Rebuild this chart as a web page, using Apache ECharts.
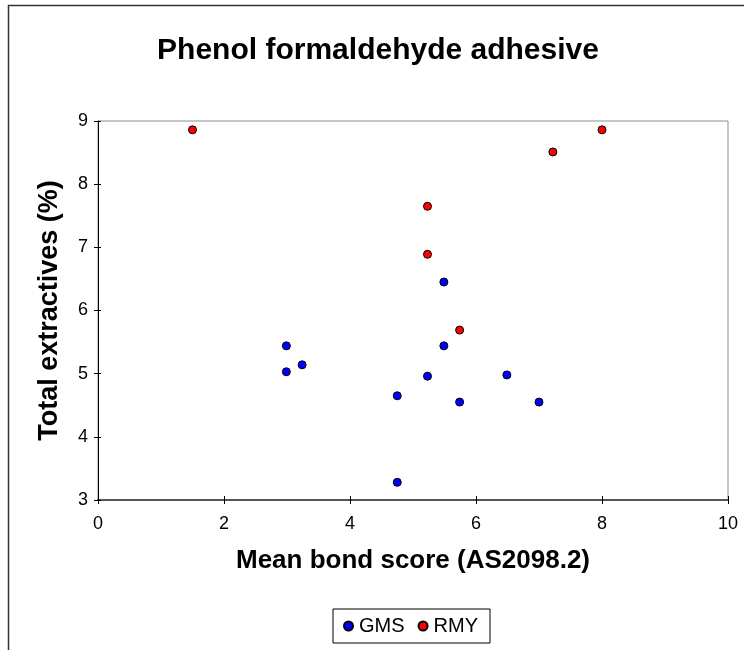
<!DOCTYPE html>
<html>
<head>
<meta charset="utf-8">
<script src="https://cdn.jsdelivr.net/npm/echarts@6/dist/echarts.min.js"></script>
<style>html,body{margin:0;padding:0;background:#fff}#c{width:744px;height:650px}</style>
</head>
<body>
<div id="c"></div>
<script>
var FONT = '"Liberation Sans", Arial, sans-serif';
var titleText = 'Phenol formaldehyde adhesive';
var xTitle = 'Mean bond score (AS2098.2)';
var yTitle = 'Total extractives (%)';
var seriesNames = ['GMS', 'RMY'];
var gmsX = [5.49, 2.99, 5.49, 3.24, 2.99, 5.23, 6.49, 4.75, 5.74, 7.0, 4.75];
var gmsY = [6.45, 5.44, 5.44, 5.14, 5.03, 4.96, 4.98, 4.65, 4.55, 4.55, 3.28];
var rmyX = [1.5, 8.0, 7.22, 5.23, 5.23, 5.74];
var rmyY = [8.86, 8.86, 8.51, 7.65, 6.89, 5.69];

function pairs(xs, ys) { return xs.map(function (x, i) { return [x, ys[i]]; }); }

var chart = echarts.init(document.getElementById('c'));
chart.setOption({
  animation: false,
  backgroundColor: '#fff',
  title: {
    text: titleText, left: 373, top: 31, textAlign: 'center',
    textStyle: { fontFamily: FONT, fontWeight: 'bold', fontSize: 30, color: '#000' }
  },
  legend: {
    left: 333, top: 609, orient: 'horizontal',
    data: seriesNames,
    itemWidth: 9, itemHeight: 9, itemGap: 13,
    borderColor: '#000', borderWidth: 1, padding: [7, 12, 7, 10],
    textStyle: { fontFamily: FONT, fontSize: 20, color: '#000', padding: [0, 0, 0, 1] },
    icon: 'circle'
  },
  grid: { left: 98, right: 16, top: 121, bottom: 150, show: true, borderColor: '#8c8c8c', borderWidth: 1, backgroundColor: 'transparent' },
  xAxis: [{
    type: 'value', min: 0, max: 10, interval: 2,
    name: xTitle, nameLocation: 'middle', nameGap: 48,
    nameTextStyle: { fontFamily: FONT, fontWeight: 'bold', fontSize: 26, color: '#000' },
    axisLine: { show: true, onZero: false, lineStyle: { color: '#555', width: 2 } },
    axisTick: { show: true, length: 4, lineStyle: { color: '#000' } },
    axisLabel: { fontFamily: FONT, fontSize: 18, color: '#000', margin: 15 },
    splitLine: { show: false }
  }, {
    type: 'value', min: 0, max: 10, interval: 2, position: 'bottom',
    axisLine: { show: false },
    axisTick: { show: true, inside: true, length: 4, lineStyle: { color: '#000' } },
    axisLabel: { show: false }, splitLine: { show: false }
  }],
  yAxis: [{
    type: 'value', min: 3, max: 9, interval: 1,
    name: yTitle, nameLocation: 'middle', nameGap: 35,
    nameTextStyle: { fontFamily: FONT, fontWeight: 'bold', fontSize: 27, color: '#000' },
    axisLine: { show: true, onZero: false, lineStyle: { color: '#000', width: 1 } },
    axisTick: { show: true, length: 4, lineStyle: { color: '#000' } },
    axisLabel: { fontFamily: FONT, fontSize: 18, color: '#000', margin: 10 },
    splitLine: { show: false }
  }, {
    type: 'value', min: 3, max: 9, interval: 1, position: 'left',
    axisLine: { show: false },
    axisTick: { show: true, inside: true, length: 3, lineStyle: { color: '#000' } },
    axisLabel: { show: false }, splitLine: { show: false }
  }],
  series: [
    { name: seriesNames[0], type: 'scatter', data: pairs(gmsX, gmsY), symbol: 'circle', symbolSize: 8,
      itemStyle: { color: '#0000ff', borderColor: '#000', borderWidth: 1, opacity: 1 } },
    { name: seriesNames[1], type: 'scatter', data: pairs(rmyX, rmyY), symbol: 'circle', symbolSize: 8,
      itemStyle: { color: '#ff0000', borderColor: '#000', borderWidth: 1, opacity: 1 } }
  ],
  graphic: [
    { type: 'rect', left: 6, top: 3, shape: { width: 800, height: 700 }, silent: true,
      style: { fill: 'none', stroke: '#333', lineWidth: 1.5 } }
  ]
});
</script>
</body>
</html>
